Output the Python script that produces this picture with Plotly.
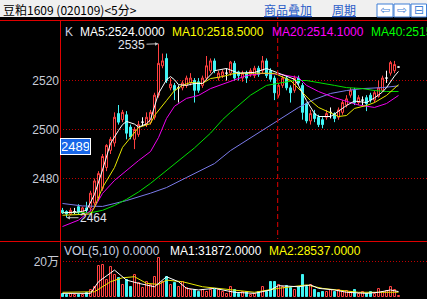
import plotly.graph_objects as go

W, H = 427, 299

# ---------------- data ----------------
opens = [2467, 2466.5, 2465.5, 2466.5, 2468.5, 2466, 2468, 2468, 2470, 2472,
         2476, 2484.5, 2491.5, 2494.5, 2506.5, 2504, 2506, 2501, 2496, 2498,
         2503, 2502, 2503, 2505, 2514, 2526, 2529, 2517, 2518, 2517,
         2517, 2518, 2519, 2520, 2519.5, 2518, 2521, 2524, 2528, 2521,
         2522, 2523, 2523, 2527, 2523.5, 2521, 2523, 2522.5, 2522, 2525,
         2524, 2528, 2524, 2521, 2514, 2518, 2521, 2517, 2516, 2521,
         2518, 2510.5, 2503.5, 2506.5, 2505, 2504, 2505, 2507, 2506.5, 2505,
         2507, 2510, 2514, 2516, 2511, 2512, 2513, 2514, 2512, 2513.5,
         2516, 2521, 2523, 2524, 2525.5]
highs = [2468, 2467, 2468, 2468, 2469.5, 2468.5, 2470.5, 2475, 2480, 2483,
         2490, 2494, 2497, 2507, 2510, 2508, 2507.5, 2502, 2501, 2503.5,
         2505, 2507, 2508, 2515, 2535, 2531, 2531, 2521, 2519, 2518,
         2520, 2522, 2523, 2521, 2521, 2522, 2530, 2529, 2529, 2524,
         2524.5, 2525, 2528, 2528, 2524, 2524, 2524, 2525, 2526, 2526,
         2530, 2529, 2525, 2522, 2519, 2522, 2522, 2518, 2522, 2522,
         2519, 2511, 2508, 2508, 2506, 2505, 2508, 2509, 2507, 2509,
         2512, 2514, 2517, 2517, 2514, 2513.5, 2514, 2515, 2516, 2520,
         2522, 2524, 2528, 2528, 2525.5]
lows = [2465.5, 2464, 2465, 2465.5, 2465.5, 2465, 2466, 2466.5, 2469, 2471,
        2475, 2483, 2490, 2493, 2502, 2503, 2496, 2496, 2492, 2497,
        2501.5, 2501, 2502, 2504, 2513, 2525, 2519, 2516, 2512, 2511,
        2516, 2517, 2518, 2511, 2515, 2517, 2520, 2523, 2523, 2520,
        2521, 2520, 2522, 2520, 2520, 2519.5, 2519, 2521.5, 2521, 2521.5,
        2523, 2521, 2519.5, 2512, 2513, 2517, 2516, 2511, 2515, 2518,
        2504, 2502.5, 2502, 2503, 2501, 2500.5, 2504, 2504.5, 2503, 2504,
        2506, 2509, 2513, 2510, 2510, 2510, 2507.5, 2511, 2511, 2513,
        2515.5, 2519, 2522, 2523, 2525.5]
closes = [2466, 2465.5, 2467, 2466.5, 2466.5, 2468, 2467, 2474, 2479, 2482,
          2489, 2493.5, 2496, 2505, 2503, 2507, 2498.5, 2497, 2500, 2502,
          2503, 2505, 2507, 2514, 2527, 2528, 2520, 2518.5, 2516, 2517,
          2519, 2521, 2521, 2516, 2516, 2521, 2526, 2528, 2524, 2523,
          2523.5, 2523, 2527.5, 2521, 2522, 2523, 2521, 2524, 2525, 2522.5,
          2528, 2522, 2520.5, 2515, 2518, 2521, 2517, 2515, 2521, 2519,
          2507, 2503.5, 2506.5, 2504.5, 2502, 2502, 2506.5, 2507, 2504.5, 2508,
          2511, 2512.5, 2516, 2511, 2513, 2512, 2510.5, 2512, 2515, 2517,
          2521, 2521, 2527.3, 2526.5, 2525.5]
volumes = [16700, 13000, 16700, 13000, 13000, 13000, 22000, 41000, 59000, 176000,
           183000, 96000, 170000, 124000, 106000, 69000, 96000, 59000, 124000, 78000,
           50000, 87000, 69000, 115000, 217000, 87000, 115000, 69000, 78000, 59000,
           87000, 50000, 41000, 41000, 31000, 41000, 28000, 41000, 41000, 41000,
           31000, 17000, 59000, 41000, 17000, 31000, 28000, 13000, 17000, 28000,
           56000, 31000, 87000, 87000, 69000, 59000, 65000, 50000, 41000, 59000,
           124000, 59000, 69000, 41000, 22000, 31000, 31000, 41000, 31000, 41000,
           28000, 35000, 28000, 41000, 17000, 28000, 17000, 28000, 17000, 46000,
           28000, 35000, 56000, 41000, 7000]

# moving-average lines (bar index, value)
ma5_idx = [0, 4, 6, 8, 10, 12, 14, 15, 16, 18, 19, 21, 22, 24, 26, 27, 28, 29, 31, 33,
           35, 36, 38, 41, 44, 48, 51, 54, 58, 59, 61, 63, 64, 67, 68, 71, 73, 76, 78, 80,
           81, 83, 84]
ma5_val = [2466, 2466.3, 2467, 2473.5, 2483.5, 2494.3, 2499.6, 2502, 2503.3, 2502.2,
           2501, 2502.3, 2504, 2514.7, 2520.3, 2521.6, 2520.3, 2518.3, 2518, 2518.8,
           2518.8, 2520.5, 2524, 2524.9, 2523, 2523.3, 2524.9, 2523, 2520.5, 2518,
           2511.8, 2506.5, 2505.3, 2505.3, 2506.3, 2509.8, 2511.6, 2511, 2512.9, 2515.3,
           2517.1, 2521.8, 2523.7]
ma10_idx = [0, 7, 8, 10, 13, 15, 17, 19, 22, 23, 26, 28, 30, 32, 35, 37, 40, 43, 48, 53,
            57, 59, 62, 64, 67, 69, 71, 73, 76, 78, 81, 84]
ma10_val = [2465, 2465.5, 2468.2, 2476.3, 2484.5, 2492.7, 2496.7, 2500.8, 2502.4, 2505.7,
            2511.8, 2515.9, 2518, 2519.2, 2518.8, 2520.8, 2521.6, 2522.9, 2523, 2522.9,
            2520, 2516.7, 2511.8, 2509, 2506.9, 2505.3, 2505.7, 2508.6, 2509.8, 2511,
            2513.9, 2518.3]
ma20_idx = [0, 4, 8, 10, 13, 16, 19, 22, 24, 26, 28, 31, 34, 37, 41, 43, 46, 50, 54, 59,
            61, 64, 68, 74, 78, 81, 84]
ma20_val = [2460.4, 2463, 2468.2, 2473.9, 2479.2, 2483.3, 2487.3, 2491, 2496.7, 2504.5,
            2509.5, 2512.7, 2513.9, 2516.7, 2519.2, 2520.4, 2522, 2522.9, 2522.6, 2521.2,
            2518, 2515.5, 2513, 2510, 2509, 2510.6, 2513.9]
ma40_idx = [0, 7, 10, 13, 16, 19, 22, 25, 29, 33, 37, 40, 42, 45, 47, 51, 55, 58, 61, 65,
            68, 71, 75, 78, 81, 84]
ma40_val = [2466.1, 2466, 2467, 2469, 2471.5, 2474.5, 2478, 2482, 2487, 2492.5,
            2498.5, 2504, 2507, 2511, 2514, 2518, 2519.2, 2520, 2520, 2519,
            2518, 2517.1, 2516.7, 2515.9, 2515.5, 2515.5]
ma60_idx = [0, 5, 10, 16, 22, 26, 31, 38, 42, 46, 50, 55, 59, 63, 67, 71, 75, 80, 84]
ma60_val = [2469.8, 2468.8, 2468.6, 2471, 2474, 2476.3, 2480.4, 2486.1, 2491.4, 2495.5,
            2499.8, 2504.9, 2509, 2512.3, 2514.7, 2515.9, 2516.7, 2517.1, 2517.8]
vma5_idx = [0, 7, 9, 13, 16, 19, 23, 26, 29, 31, 34, 38, 43, 48, 52, 54, 59, 62, 64, 68,
            71, 76, 79, 82, 84]
vma5_val = [22000, 22000, 87000, 152000, 96000, 78000, 59000, 115000, 87000, 50000,
            41000, 50000, 28000, 22000, 41000, 65000, 59000, 69000, 50000, 41000,
            28000, 22000, 28000, 41000, 31900]
vma10_idx = [0, 8, 12, 15, 18, 21, 24, 26, 30, 35, 38, 43, 48, 54, 61, 65, 69, 74, 79, 84]
vma10_val = [28000, 31000, 87000, 109000, 115000, 78000, 72000, 96000, 87000, 59000,
             52000, 41000, 28000, 50000, 69000, 50000, 41000, 28000, 28000, 28500]

price_ticks = [2480, 2500, 2520]
vol_ticks = [200000]
vol_tick_text = ["20万"]

title_text = "豆粕1609 (020109)&lt;5分&gt;"
legend1 = [("K", "#c8d0e0"), ("MA5:2524.0000", "#ffffff"), ("MA10:2518.5000", "#ffff00"),
           ("MA20:2514.1000", "#ff00ff"), ("MA40:2515.4000", "#00ff00")]
legend2 = [("VOL(5,10) 0.0000", "#c8d0e0"), ("MA1:31872.0000", "#ffffff"),
           ("MA2:28537.0000", "#ffff00")]
high_mark = (24, 2535)
low_mark = (1, 2464)
cursor_price = "2489"
day_break = 53.8

# ---------------- styling / layout constants ----------------
RED = "#ff4040"
CYAN = "#40f4f4"
GRID = "#c00000"
BORDER = "#e00000"
LABEL = "#c8ccd8"
FONT = "Liberation Sans, Noto Sans CJK SC"

def py(p):
    return 1 - p / H

# price axis: 2520 at pixel row 80, 2.45 px per unit
ref_p, ref_px, ppu = 2520, 80.5, 2.45
p_top_px, p_bot_px = 21, 240
y_hi = ref_p + (ref_px - p_top_px) / ppu
y_lo = ref_p - (p_bot_px - ref_px) / ppu
# volume axis: 0 at row 297.3, 200000 at row 261.5
v_top_px, v_bot_px = 242, 298
vpp = 200000 / (297.3 - 261.5)
v_lo = -(v_bot_px - 297.3) * vpp
v_hi = 200000 + (261.5 - v_top_px) * vpp

x0_px = 62.5
step = 4.0
x_lo = (60 - x0_px) / step
x_hi = (W - x0_px) / step

idx = list(range(len(closes)))
normal = [i for i in idx if opens[i] != closes[i]]
doji = [i for i in idx if opens[i] == closes[i]]

fig = go.Figure()
fig.add_trace(go.Candlestick(
    x=normal, open=[opens[i] for i in normal], high=[highs[i] for i in normal],
    low=[lows[i] for i in normal], close=[closes[i] for i in normal],
    increasing=dict(line=dict(color=RED, width=1), fillcolor="#000000"),
    decreasing=dict(line=dict(color=CYAN, width=1), fillcolor=CYAN),
    whiskerwidth=0, hoverinfo="skip", xaxis="x", yaxis="y"))
fig.add_trace(go.Candlestick(
    x=doji, open=[opens[i] for i in doji], high=[highs[i] for i in doji],
    low=[lows[i] for i in doji], close=[closes[i] for i in doji],
    increasing=dict(line=dict(color="#ffffff", width=1), fillcolor="#ffffff"),
    decreasing=dict(line=dict(color="#ffffff", width=1), fillcolor="#ffffff"),
    whiskerwidth=0, hoverinfo="skip", xaxis="x", yaxis="y"))

for xs, ys, col in [(ma60_idx, ma60_val, "#7b7bea"), (ma40_idx, ma40_val, "#00e000"),
                    (ma20_idx, ma20_val, "#ee00ee"), (ma10_idx, ma10_val, "#e8e800"),
                    (ma5_idx, ma5_val, "#ffffff")]:
    fig.add_trace(go.Scatter(x=xs, y=ys, mode="lines", line=dict(color=col, width=1),
                             hoverinfo="skip", xaxis="x", yaxis="y"))

up = [closes[i] >= opens[i] for i in idx]
fig.add_trace(go.Bar(
    x=idx, y=volumes, width=0.5,
    marker=dict(color=["#000000" if u else CYAN for u in up],
                line=dict(color=[RED if u else CYAN for u in up], width=1)),
    hoverinfo="skip", xaxis="x2", yaxis="y2"))
for xs, ys, col in [(vma10_idx, vma10_val, "#e8e800"), (vma5_idx, vma5_val, "#ffffff")]:
    fig.add_trace(go.Scatter(x=xs, y=ys, mode="lines", line=dict(color=col, width=1),
                             hoverinfo="skip", xaxis="x2", yaxis="y2"))

shapes = [
    dict(type="rect", xref="paper", yref="paper", x0=0, x1=1, y0=py(17), y1=1,
         fillcolor="#f0f0f0", line=dict(width=0), layer="below"),
    dict(type="line", xref="paper", yref="paper", x0=0, x1=1, y0=py(20.5), y1=py(20.5),
         line=dict(color=BORDER, width=1)),
    dict(type="line", xref="paper", yref="paper", x0=0, x1=1, y0=py(241.5), y1=py(241.5),
         line=dict(color=BORDER, width=1)),
    dict(type="line", xref="paper", yref="paper", x0=60.5 / W, x1=60.5 / W, y0=py(20), y1=0,
         line=dict(color=BORDER, width=1)),
    dict(type="line", xref="x", yref="paper", x0=day_break, x1=day_break, y0=py(14), y1=py(239),
         line=dict(color=BORDER, width=1, dash="5px,3px")),
]
for bx0, bx1 in [(377, 393), (394, 410), (411, 426.5)]:
    shapes.append(dict(type="rect", xref="paper", yref="paper", x0=bx0 / W, x1=bx1 / W,
                       y0=py(17), y1=py(4), fillcolor="#ffffff",
                       line=dict(color="#3f7fd6", width=1)))

anns = [
    dict(xref="paper", yref="paper", x=1 / W, y=py(9.5), xanchor="left", yanchor="middle",
         text=title_text, showarrow=False,
         font=dict(family="Noto Sans CJK SC", size=12, color="#000000")),
    dict(xref="paper", yref="paper", x=288 / W, y=py(9.5), xanchor="center", yanchor="middle",
         text="<u>商品叠加</u>", showarrow=False,
         font=dict(family="Noto Sans CJK SC", size=12, color="#2a5cc8")),
    dict(xref="paper", yref="paper", x=344 / W, y=py(9.5), xanchor="center", yanchor="middle",
         text="<u>周期</u>", showarrow=False,
         font=dict(family="Noto Sans CJK SC", size=12, color="#2a5cc8")),
]
for cx, glyph in [(385, "⇦"), (402, "⇨"), (419, "⊟")]:
    anns.append(dict(xref="paper", yref="paper", x=cx / W, y=py(10.5), xanchor="center",
                     yanchor="middle", text=glyph, showarrow=False,
                     font=dict(family="DejaVu Sans", size=12, color="#3f7fd6")))

for (txt, col), xp in zip(legend1, [63, 78, 170, 270, 369]):
    anns.append(dict(xref="paper", yref="paper", x=xp / W, y=py(31.5), xanchor="left",
                     yanchor="middle", text=txt, showarrow=False,
                     font=dict(family=FONT, size=12, color=col)))
for (txt, col), xp in zip(legend2, [62, 168, 267]):
    anns.append(dict(xref="paper", yref="paper", x=xp / W, y=py(251), xanchor="left",
                     yanchor="middle", text=txt, showarrow=False,
                     font=dict(family=FONT, size=12, color=col)))

anns.append(dict(xref="x", yref="y", x=high_mark[0], y=high_mark[1], text=str(high_mark[1]),
                 showarrow=True, ax=-27, ay=1, arrowhead=2, arrowsize=0.7, arrowwidth=1,
                 arrowcolor="#c0c0c0", standoff=0,
                 font=dict(family=FONT, size=12, color="#e0e4ee")))
anns.append(dict(xref="x", yref="y", x=low_mark[0], y=low_mark[1], text=str(low_mark[1]),
                 showarrow=True, ax=27, ay=0, arrowhead=2, arrowsize=0.7, arrowwidth=1,
                 arrowcolor="#c0c0c0", standoff=0,
                 font=dict(family=FONT, size=12, color="#e0e4ee")))
anns.append(dict(xref="paper", yref="paper", x=60 / W, y=py(138), xanchor="left", yanchor="top",
                 text=cursor_price, showarrow=False, width=27, height=13, borderpad=1,
                 bgcolor="#1866e8", bordercolor="#ffffff", borderwidth=1,
                 font=dict(family=FONT, size=13, color="#ffffff")))

fig.update_layout(
    width=W, height=H, margin=dict(l=0, r=0, t=0, b=0),
    paper_bgcolor="#000000", plot_bgcolor="#000000", showlegend=False,
    hovermode=False, boxgap=0.5, boxgroupgap=0, bargap=0,
    xaxis=dict(domain=[60 / W, 1], range=[x_lo, x_hi], visible=False, fixedrange=True,
               rangeslider=dict(visible=False), anchor="y"),
    xaxis2=dict(domain=[60 / W, 1], range=[x_lo, x_hi], visible=False, fixedrange=True,
                anchor="y2"),
    yaxis=dict(domain=[py(p_bot_px), py(p_top_px)], range=[y_lo, y_hi], tickvals=price_ticks,
               ticks="", showgrid=True, gridcolor=GRID, gridwidth=1, griddash="1px,2px",
               zeroline=False, showline=False, fixedrange=True, anchor="x",
               tickfont=dict(family=FONT, size=12, color=LABEL)),
    yaxis2=dict(domain=[py(v_bot_px), py(v_top_px)], range=[v_lo, v_hi], tickvals=vol_ticks,
                ticktext=vol_tick_text, ticks="", showgrid=True, gridcolor=GRID, gridwidth=1,
                griddash="1px,2px", zeroline=False, showline=False, fixedrange=True,
                anchor="x2", tickfont=dict(family=FONT, size=12, color=LABEL)),
    shapes=shapes, annotations=anns,
)

fig.write_html("out.html", config={"displayModeBar": False})
